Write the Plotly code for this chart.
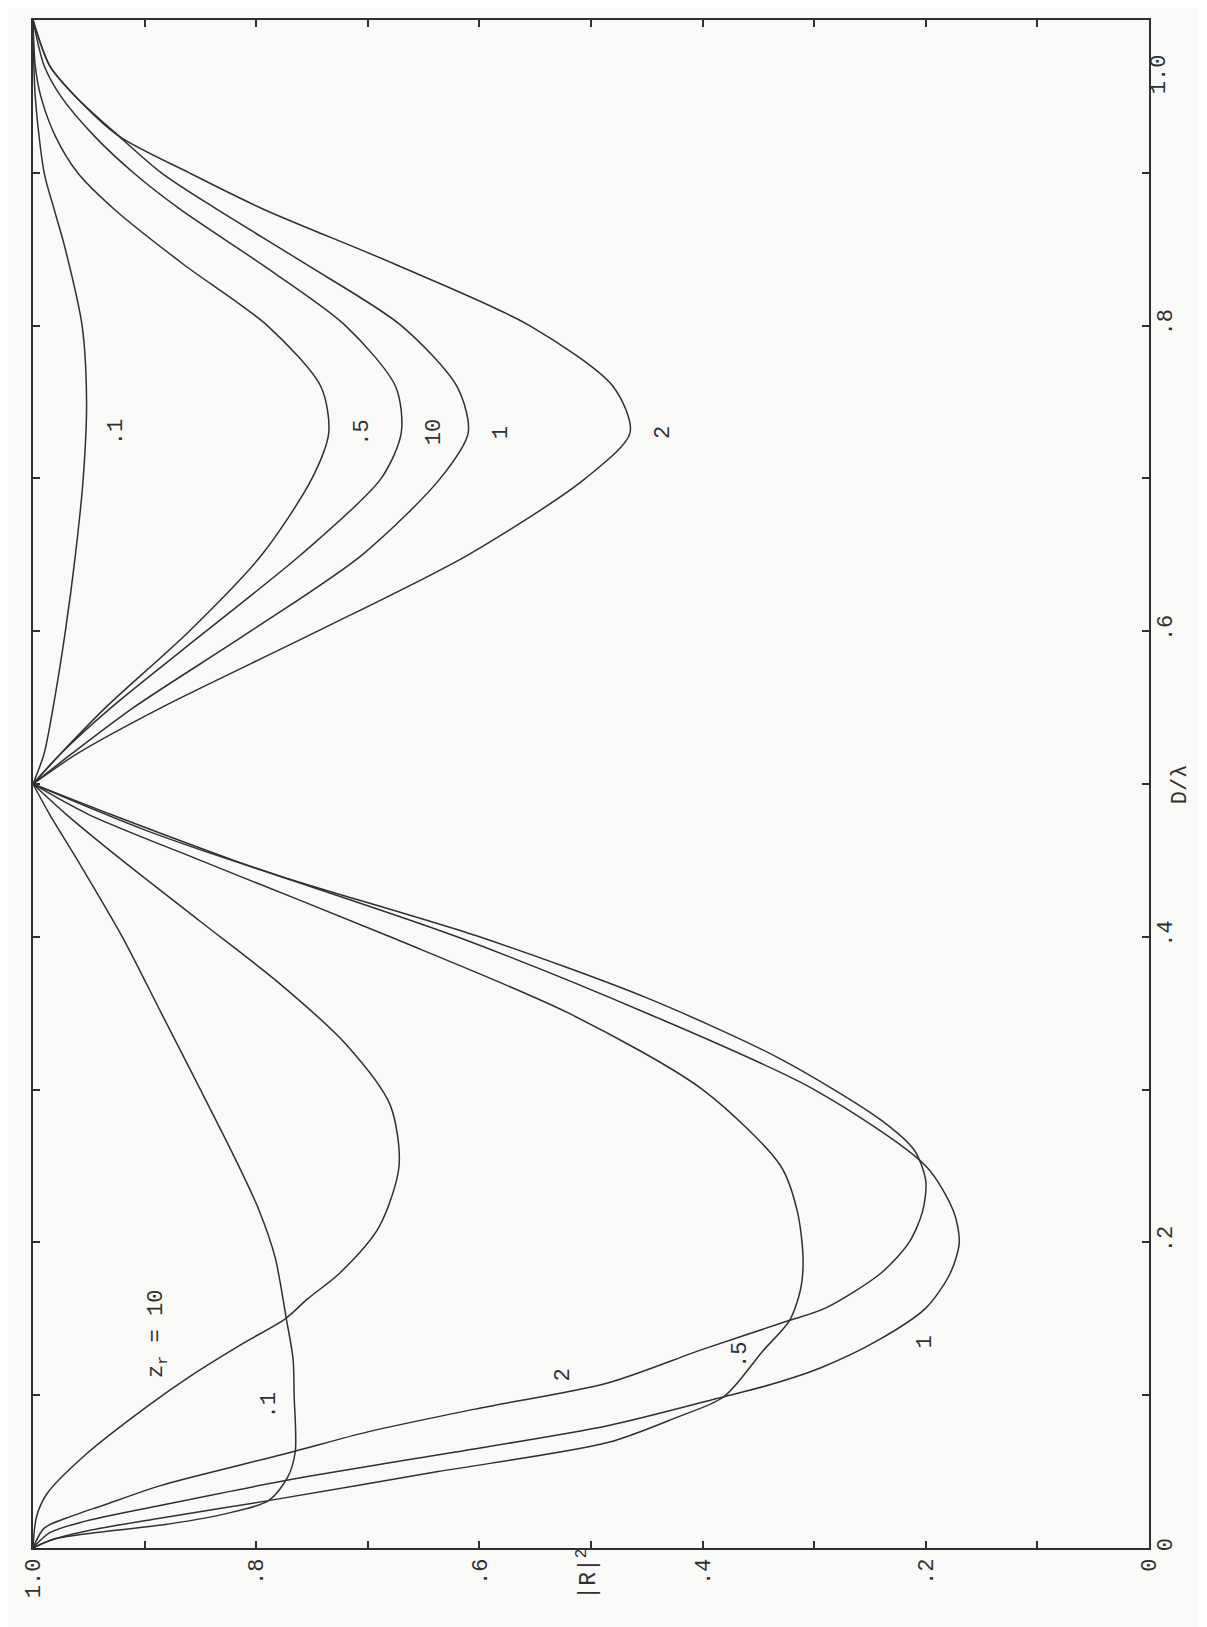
import plotly.graph_objects as go

# ---- values read from the (rotated) reference: D/lambda and |R|^2 for each z_r ----
d_01 = [0, 0.006, 0.01, 0.015, 0.022, 0.031, 0.046, 0.063, 0.10, 0.124, 0.15, 0.19, 0.222, 0.255, 0.30, 0.35,
        0.40, 0.45, 0.48, 0.50, 0.52, 0.55, 0.60, 0.65, 0.70, 0.75, 0.80, 0.85, 0.876, 0.90, 0.95, 1.0]
r_01 = [1, 0.98, 0.945, 0.885, 0.83, 0.789, 0.772, 0.765, 0.766, 0.767, 0.773, 0.783, 0.798, 0.819, 0.85, 0.885,
        0.92, 0.96, 0.985, 1.0, 0.99, 0.982, 0.971, 0.962, 0.955, 0.952, 0.956, 0.971, 0.981, 0.99, 0.998, 1.0]

d_05 = [0, 0.005, 0.011, 0.0196, 0.031, 0.05, 0.069, 0.085, 0.099, 0.129, 0.149, 0.17, 0.19, 0.22, 0.25, 0.30,
        0.35, 0.40, 0.45, 0.48, 0.50, 0.52, 0.55, 0.60, 0.65, 0.70, 0.73, 0.76, 0.80, 0.84, 0.876, 0.90, 0.924,
        0.95, 0.97, 1.0]
r_05 = [1, 0.985, 0.953, 0.885, 0.789, 0.637, 0.485, 0.425, 0.381, 0.346, 0.322, 0.312, 0.31, 0.315, 0.33, 0.40,
        0.52, 0.68, 0.85, 0.95, 1.0, 0.975, 0.935, 0.86, 0.795, 0.75, 0.735, 0.742, 0.79, 0.865, 0.927, 0.96, 0.98,
        0.993, 0.998, 1.0]

d_1 = [0, 0.01, 0.0176, 0.028, 0.044, 0.06, 0.08, 0.099, 0.107, 0.118, 0.135, 0.157, 0.18, 0.20, 0.22, 0.25,
       0.30, 0.35, 0.40, 0.45, 0.48, 0.50, 0.52, 0.55, 0.60, 0.65, 0.70, 0.73, 0.76, 0.80, 0.84, 0.876, 0.90,
       0.924, 0.95, 0.97, 1.0]
r_1 = [1, 0.985, 0.953, 0.885, 0.775, 0.645, 0.485, 0.381, 0.339, 0.294, 0.245, 0.20, 0.178, 0.17, 0.175, 0.20,
       0.30, 0.45, 0.62, 0.82, 0.93, 1.0, 0.965, 0.91, 0.805, 0.705, 0.635, 0.61, 0.62, 0.67, 0.755, 0.835, 0.885,
       0.923, 0.962, 0.985, 1.0]

d_2 = [0, 0.013, 0.0196, 0.028, 0.041, 0.054, 0.063, 0.076, 0.0915, 0.108, 0.13, 0.149, 0.157, 0.18, 0.20, 0.22,
       0.24, 0.26, 0.28, 0.32, 0.36, 0.40, 0.44, 0.47, 0.50, 0.52, 0.55, 0.60, 0.65, 0.70, 0.73, 0.76, 0.80, 0.84,
       0.876, 0.90, 0.924, 0.95, 0.97, 1.0]
r_2 = [1, 0.99, 0.97, 0.937, 0.885, 0.816, 0.767, 0.70, 0.60, 0.485, 0.40, 0.322, 0.29, 0.24, 0.215, 0.203,
       0.20, 0.21, 0.24, 0.33, 0.45, 0.60, 0.78, 0.90, 1.0, 0.96, 0.885, 0.745, 0.61, 0.505, 0.465, 0.48, 0.555, 0.675,
       0.793, 0.86, 0.923, 0.962, 0.985, 1.0]

d_10 = [0, 0.02, 0.035, 0.061, 0.093, 0.113, 0.133, 0.15, 0.163, 0.18, 0.21, 0.25, 0.29, 0.33, 0.37, 0.41, 0.45,
        0.48, 0.50, 0.52, 0.55, 0.60, 0.65, 0.70, 0.73, 0.76, 0.80, 0.84, 0.876, 0.90, 0.924, 0.95, 0.97, 1.0]
r_10 = [1, 0.997, 0.988, 0.953, 0.897, 0.858, 0.814, 0.774, 0.754, 0.725, 0.69, 0.672, 0.68, 0.72, 0.78, 0.85, 0.92,
        0.97, 1.0, 0.975, 0.93, 0.845, 0.76, 0.688, 0.67, 0.675, 0.72, 0.795, 0.868, 0.91, 0.945, 0.975, 0.99, 1.0]

series = [("0.1", d_01, r_01), ("0.5", d_05, r_05), ("1", d_1, r_1), ("2", d_2, r_2), ("10", d_10, r_10)]

# curve labels: (text, |R|^2, D/lambda)
label_text = ["z<sub>r</sub> = 10", ".1", "2", ".5", "1", ".1", ".5", "10", "1", "2"]
label_r = [0.888, 0.788, 0.525, 0.366, 0.20, 0.925, 0.705, 0.64, 0.58, 0.435]
label_d = [0.14, 0.093, 0.113, 0.126, 0.135, 0.73, 0.73, 0.73, 0.73, 0.73]

r_tickvals = [0, 0.1, 0.2, 0.3, 0.4, 0.5, 0.6, 0.7, 0.8, 0.9, 1.0]
r_ticktext = ["0", "", ".2", "", ".4", "", ".6", "", ".8", "", "1.0"]
d_tickvals = [0, 0.1, 0.2, 0.3, 0.4, 0.5, 0.6, 0.7, 0.8, 0.9, 1.0]
d_ticktext = ["0", "", ".2", "", ".4", "", ".6", "", ".8", "", ""]
d_top_label = "1.0"

FONT = "Liberation Mono"
INK = "#303030"

fig = go.Figure()
for name, d, r in series:
    k = d.index(0.5)  # the curves meet |R|^2 = 1 at D/lambda = .5: draw each lobe on its own
    for dd, rr in ((d[:k + 1], r[:k + 1]), (d[k:], r[k:])):
        fig.add_trace(go.Scatter(x=rr, y=dd, mode="lines", name=name,
                                 line=dict(color=INK, width=1.5, shape="spline", smoothing=0.8),
                                 showlegend=False, hoverinfo="skip"))

for t, r, d in zip(label_text, label_r, label_d):
    fig.add_annotation(x=r, y=d, xref="x", yref="y", text=t, showarrow=False,
                       textangle=-90, font=dict(family=FONT, size=22, color=INK))

fig.add_annotation(x=0.503, y=-0.035, xref="x", yref="paper", text="|R|<sup>2</sup>", showarrow=False,
                   textangle=-90, font=dict(family=FONT, size=23, color=INK))
fig.add_annotation(x=1.041, y=0.5, xref="paper", yref="paper", text="D/λ", showarrow=False,
                   textangle=-90, font=dict(family=FONT, size=22, color=INK))
fig.add_annotation(x=1.022, y=0.979, xref="paper", yref="paper", text=d_top_label, showarrow=False,
                   textangle=-90, font=dict(family=FONT, size=22, color=INK))

axis_common = dict(showgrid=False, zeroline=False, showline=True, linecolor=INK, linewidth=1.6,
                   mirror="ticks", ticks="inside", ticklen=7, tickwidth=1.6, tickcolor=INK,
                   tickangle=-90, tickfont=dict(family=FONT, size=22, color=INK))

fig.update_xaxes(range=[1.0, 0.0], tickvals=r_tickvals, ticktext=r_ticktext, **axis_common)
fig.update_yaxes(range=[0.0, 1.0], side="right", tickvals=d_tickvals, ticktext=d_ticktext,
                 ticklabelstandoff=-5, **axis_common)

fig.update_layout(width=1207, height=1627, margin=dict(l=25, r=66, t=10, b=87),
                  paper_bgcolor="#f9f9f7", plot_bgcolor="#f9f9f7")

fig.write_html("out.html")
